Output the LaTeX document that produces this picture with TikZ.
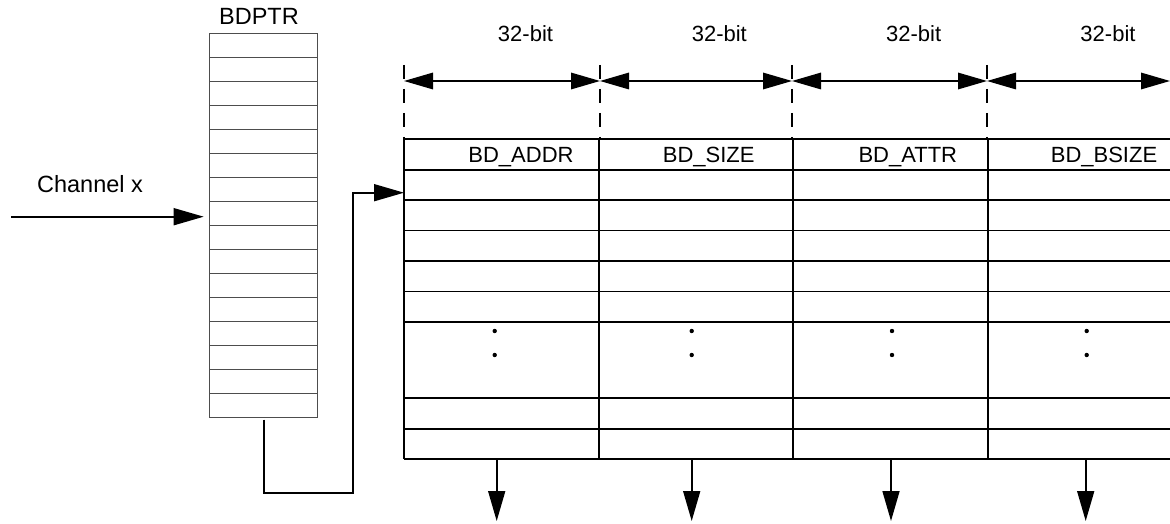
\documentclass[tikz,border=0pt]{standalone}
\usepackage{fontspec}
\setmainfont{Liberation Sans}
\usetikzlibrary{arrows.meta}
\definecolor{ptrgray}{HTML}{4D4D4D}
\begin{document}
\begin{tikzpicture}[x=1pt,y=-1pt,line width=1.6pt,
  tip/.style={-{Triangle[length=30pt,width=17pt]}},
  dim/.style={{Triangle[length=29pt,width=16.5pt]}-{Triangle[length=29pt,width=16.5pt]}},
  lbl/.style={font=\fontsize{22}{26}\selectfont,inner sep=0pt,anchor=base},
  biglbl/.style={font=\fontsize{23.5}{28}\selectfont,inner sep=0pt,anchor=base},
  guide/.style={dash pattern=on 14pt off 10pt},
  dotmark/.style={fill=black,draw=none,circle,inner sep=0pt,minimum size=4.4pt}]
\useasboundingbox (0,0) rectangle (1170,524);
% BDPTR column
\node[draw=ptrgray,line width=1.5pt,minimum width=108pt,minimum height=384.4pt,
  inner sep=0pt,outer sep=0pt] (bdptr) at (263.7,225.5) {};
\foreach \i in {1,...,15}
  \draw[ptrgray,line width=1.5pt] ([yshift=-24.025*\i pt]bdptr.north west) -- ([yshift=-24.025*\i pt]bdptr.north east);
\node[biglbl] (bdptrlbl) at (259,25) {BDPTR};
% Channel x
\node[biglbl] (chlbl) at (90,193) {Channel x};
\coordinate (chin) at (11,216.7);
\draw[tip,shorten >=6pt] (chin) -- (bdptr.west |- chin);
% table
\foreach \y in {139.3,169.7,200.1,230.5,260.9,291.3,321.7,397.7,428.7,458.7}
  \draw (404,\y) -- (1170,\y);
\foreach \x in {404,599,792.7,988}
  \draw (\x,139.3) -- (\x,458.7);
\coordinate (entry) at (404,192.7);
\draw[tip] (bdptr.south) ++(0,2) -- ++(0,73) -| (352.7,192.7) -- (entry);
% header labels
\node[lbl] (h1) at (521,162) {BD\_ADDR};
\node[lbl] (h2) at (708.7,162) {BD\_SIZE};
\node[lbl] (h3) at (907.8,162) {BD\_ATTR};
\node[lbl] (h4) at (1104,162) {BD\_BSIZE};
% width labels
\node[lbl] (w1) at (525.5,41.7) {32-bit};
\node[lbl] (w2) at (719.3,41.7) {32-bit};
\node[lbl] (w3) at (913.7,41.7) {32-bit};
\node[lbl] (w4) at (1108,41.7) {32-bit};
% guides and dimension arrows
\foreach \x/\n in {404/a,600/b,792/c,987/d}{
  \coordinate (g\n) at (\x,81);
  \draw[guide] (\x,65) -- (\x,139.3);
}
\coordinate (ge) at (1170,81);
\draw[dim] (ga) -- (gb);
\draw[dim] (gb) -- (gc);
\draw[dim] (gc) -- (gd);
\draw[dim] (gd) -- (ge);
% dots
\foreach \x in {494.7,691.7,892,1086.7}{
  \node[dotmark] at (\x,331) {};
  \node[dotmark] at (\x,355) {};
}
% output arrows
\foreach \x/\n in {496.7/a,691.7/b,891/c,1085.7/d}{
  \coordinate (os\n) at (\x,458.7);
  \coordinate (oe\n) at (\x,521);
  \draw[tip] (os\n) -- (oe\n);
}
\end{tikzpicture}
\end{document}
